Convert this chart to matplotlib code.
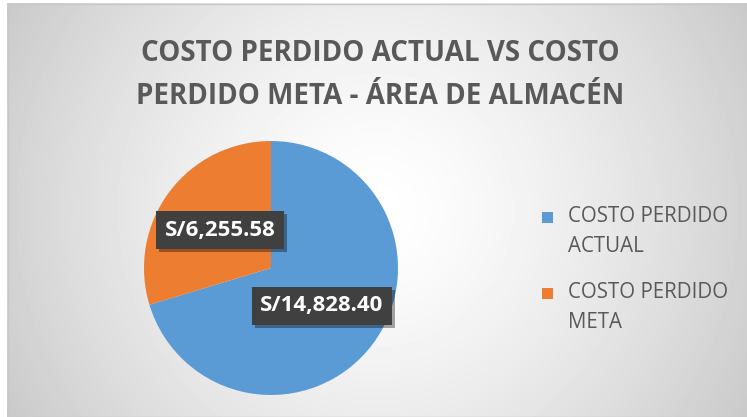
import numpy as np
import matplotlib
matplotlib.use("Agg")
import matplotlib.pyplot as plt
from matplotlib.patches import Rectangle, Patch
from matplotlib.legend_handler import HandlerPatch
import matplotlib.patheffects as pe

categories = ["COSTO PERDIDO\nACTUAL", "COSTO PERDIDO\nMETA"]
values = [14828.40, 6255.58]
colors = ["#5B9BD5", "#ED7D31"]
title = "COSTO PERDIDO ACTUAL VS COSTO\nPERDIDO META - ÁREA DE ALMACÉN"

plt.rcParams['font.family'] = ['Open Sans', 'DejaVu Sans']

W, H = 747, 417
fig = plt.figure(figsize=(W / 100, H / 100), dpi=100)
fig.patch.set_facecolor("white")

# radial gradient background (chart area)
X0, Y0 = 7, 3
bg = fig.add_axes([0, 0, 1, 1])
yy, xx = np.mgrid[Y0:H, X0:W] + 0.5
cx, cy = 0.5 * (X0 + W), 0.5 * (Y0 + H)
r = np.sqrt(((xx - cx) / (0.5 * (W - X0))) ** 2 + ((yy - cy) / (0.5 * (W - X0))) ** 2)
r = r / r.max()
val = 1.0 - 0.21 * r ** 1.4
bg.imshow(val, cmap="gray", vmin=0, vmax=1, extent=[X0, W, H, Y0], aspect="auto", interpolation="bilinear")
bg.set_xlim(0, W)
bg.set_ylim(H, 0)
bg.axis("off")
bg.add_patch(Rectangle((X0 + 0.5, Y0 + 0.5), W - X0 - 1, H - Y0 - 1, fill=False, edgecolor="#C8C8C8", lw=1))

# title
fig.text(380 / W, 1 - 75 / H, title, ha="center", va="center", fontsize=20,
         fontweight="bold", color="#595959", linespacing=1.65)

# pie
cxp, cyp, rad = 271, 268, 127
ax = fig.add_axes([(cxp - rad) / W, 1 - (cyp + rad) / H, 2 * rad / W, 2 * rad / H])
total = sum(values)

def fmt(p):
    return "S/{:,.2f}".format(p * total / 100.0)

wedges, texts, autotexts = ax.pie(values, colors=colors, startangle=90, counterclock=False,
                                  autopct=fmt, pctdistance=0.5, radius=1.0,
                                  wedgeprops=dict(linewidth=0))
ax.set_xlim(-1, 1)
ax.set_ylim(-1, 1)
ax.set_aspect("auto")
for t in autotexts:
    t.set_color("white")
    t.set_fontweight("bold")
    t.set_fontsize(16)
    t.set_bbox(dict(boxstyle="square,pad=0.38", facecolor="#404040", edgecolor="none"))
    t.get_bbox_patch().set_path_effects([pe.SimplePatchShadow(offset=(2, -2), shadow_rgbFace="black", alpha=0.35), pe.Normal()])

# legend
FS = 14.8
SHIFT = 10.8
SQ = 7.9

def square_top(legend, orig_handle, xdescent, ydescent, width, height, fontsize):
    return Rectangle((-xdescent, -ydescent + height / 2 - SQ / 2 + SHIFT), SQ, SQ)

handles = [Patch(facecolor=c, edgecolor="none") for c in colors]
leg = fig.legend(handles, categories, loc="upper left", bbox_to_anchor=(542 / W, 1 - 206 / H),
                 frameon=False, fontsize=FS, labelcolor="#595959", handlelength=0.55,
                 handleheight=0.5, handletextpad=0.7, labelspacing=1.24, borderaxespad=0,
                 borderpad=0, handler_map={Patch: HandlerPatch(patch_func=square_top)})
for t in leg.get_texts():
    t.set_linespacing(1.56)

fig.savefig("out.png", dpi=100)
